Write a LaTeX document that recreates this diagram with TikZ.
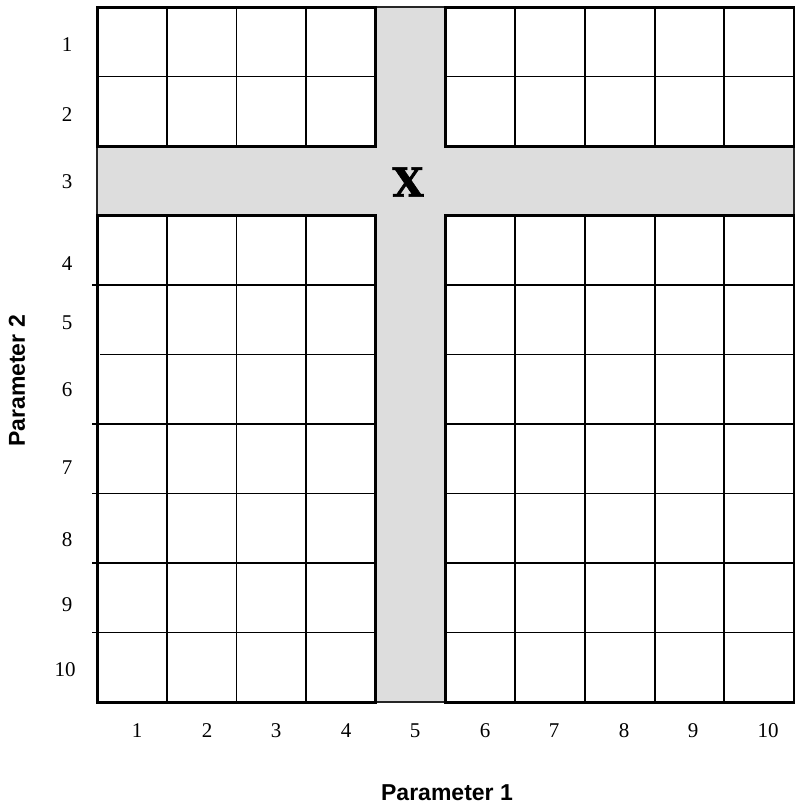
\documentclass[tikz,border=0pt]{standalone}
\usepackage{fontspec}
\setmainfont{Liberation Serif}
\newfontfamily\axisfont{Liberation Sans}
\newfontfamily\markfont[FakeBold=1.5]{DejaVu Serif}
\definecolor{crossgray}{HTML}{DDDDDD}
\tikzset{
  gridline/.style={line width=1.8pt, black},
  blockline/.style={line width=3pt, black},
  frameline/.style={line width=1.4pt, black!85},
  numlabel/.style={font=\fontsize{21}{22}\selectfont, inner sep=0pt},
  axislabel/.style={font=\axisfont\bfseries\fontsize{23}{25}\selectfont, inner sep=0pt},
  marklabel/.style={font=\markfont\bfseries\fontsize{40}{40}\selectfont, inner sep=0pt}
}
\begin{document}
\begin{tikzpicture}[x=1pt,y=-1pt]
\useasboundingbox (0,0) rectangle (795,804);
\fill[white] (0,0) rectangle (795,804);
% shaded cross
\fill[crossgray] (97,146) rectangle (794,215.5);
\fill[crossgray] (375.8,7) rectangle (445.5,702);
% interior vertical lines
\foreach \i in {1,2,3,6,7,8,9}{
  \pgfmathsetmacro{\xx}{97+69.7*\i}
  \draw[gridline] (\xx,7) -- (\xx,146);
  \draw[gridline] (\xx,215.5) -- (\xx,702);
}
% interior horizontal lines
\draw[gridline] (97,76.5) -- (375.8,76.5);
\draw[gridline] (445.5,76.5) -- (794,76.5);
\foreach \j/\st in {4/92,5/100,6/92,7/92,8/92,9/92}{
  \pgfmathsetmacro{\yy}{7+69.5*\j}
  \draw[gridline] (\st,\yy) -- (375.8,\yy);
  \draw[gridline] (445.5,\yy) -- (794,\yy);
}
% outer frame
\draw[frameline] (97,7) rectangle (794,702);
% block borders
\draw[blockline] (97,7) rectangle (375.8,146);
\draw[blockline] (445.5,7) rectangle (794,146);
\draw[blockline] (97,215.5) rectangle (375.8,702);
\draw[blockline] (445.5,215.5) rectangle (794,702);
% mark
\node[marklabel] (mark) at (408,182) {X};
% row labels
\foreach \n/\yy in {1/45,2/115,3/182,4/264,5/323,6/390,7/468,8/540,9/605}{
  \node[numlabel] (r\n) at (67,\yy) {\n};
}
\node[numlabel] (r10) at (65,670) {10};
% column labels
\foreach \n/\xx in {1/137,2/207,3/276,4/346,5/415,6/485,7/554,8/624,9/693}{
  \node[numlabel] (c\n) at (\xx,731) {\n};
}
\node[numlabel] (c10) at (768,731) {10};
% axis titles
\node[axislabel] (p1) at (447,793) {Parameter 1};
\node[axislabel, rotate=90] (p2) at (17,381) {Parameter 2};
\end{tikzpicture}
\end{document}
